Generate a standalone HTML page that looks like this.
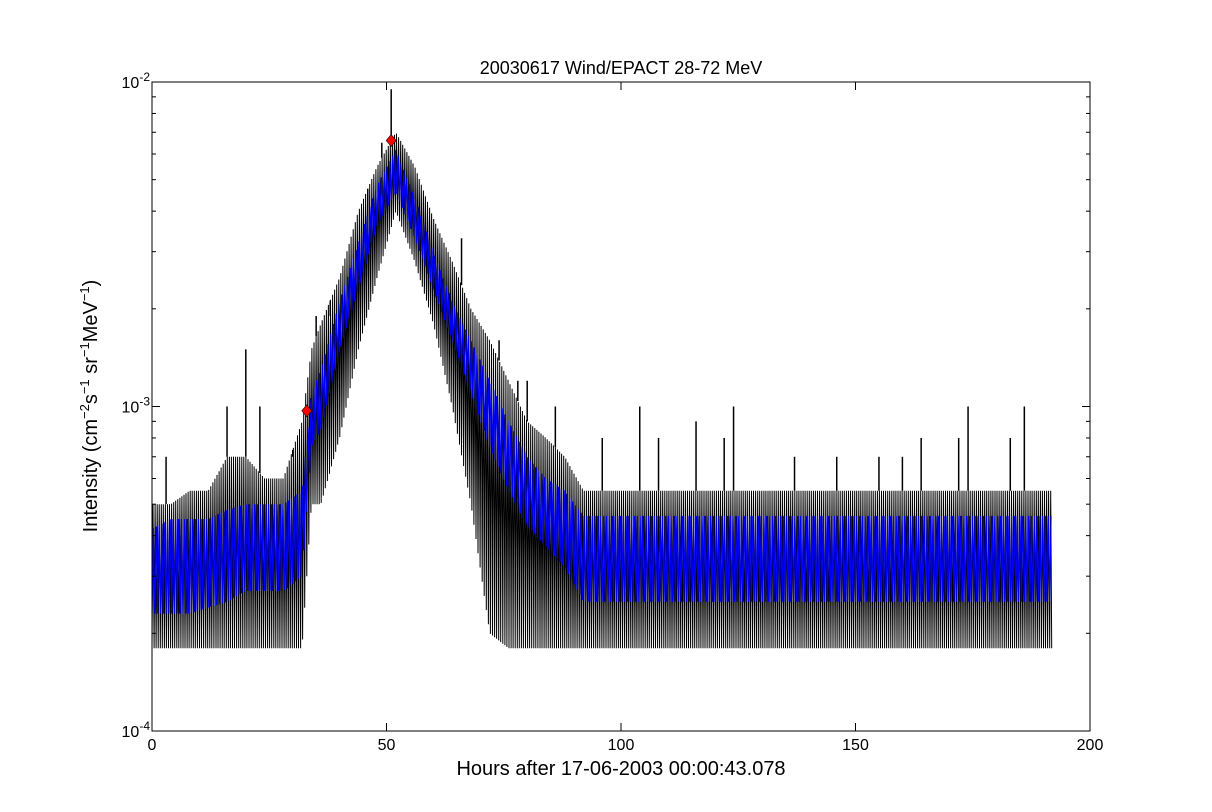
<!DOCTYPE html>
<html><head><meta charset="utf-8">
<style>
body{margin:0;background:#fff;}
svg{display:block;font-family:"Liberation Sans","DejaVu Sans",sans-serif;}
</style></head>
<body>
<svg id="chart" width="1212" height="812">
<rect width="1212" height="812" fill="#fff"/>
<text x="621" y="74" font-size="18" text-anchor="middle">20030617 Wind/EPACT 28-72 MeV</text>
<text x="621" y="775" font-size="20" text-anchor="middle">Hours after 17-06-2003 00:00:43.078</text>
<text transform="translate(97,406) rotate(-90)" font-size="20" text-anchor="middle">Intensity (cm<tspan font-size="13" dy="-8">−2</tspan><tspan dy="8">s</tspan><tspan font-size="13" dy="-8">−1</tspan><tspan dy="8"> sr</tspan><tspan font-size="13" dy="-8">−1</tspan><tspan dy="8">MeV</tspan><tspan font-size="13" dy="-8">−1</tspan><tspan dy="8">)</tspan></text>
<g id="plot"></g>
</svg>
<script>
const hours   = [0,4,8,12,16,20,24,28,32,34,36,40,44,48,52,56,60,64,68,72,76,80,84,88,92,100,110,120,130,140,150,160,170,180,190,192];
const blackHi = [5,5,5.5,5.5,7,7,6,6,9,15,18,25,40,55,70,55,38,28,20,16,12,9,8,7,5.5,5.5,5.5,5.5,5.5,5.5,5.5,5.5,5.5,5.5,5.5,5.5];
const blackLo = [1.8,1.8,1.8,1.8,1.8,1.8,1.8,1.8,1.8,5,5,8,15,25,40,28,18,10,5,2,1.8,1.8,1.8,1.8,1.8,1.8,1.8,1.8,1.8,1.8,1.8,1.8,1.8,1.8,1.8,1.8];
const blueHi  = [4.2,4.5,4.5,4.5,4.8,5,5,5,5.5,11,13,21,32,48,62,44,30,21,16,12,9,7,6,5.5,4.6,4.6,4.6,4.6,4.6,4.6,4.6,4.6,4.6,4.6,4.6,4.6];
const blueLo  = [2.3,2.3,2.3,2.4,2.5,2.7,2.7,2.7,3,7.5,8.5,15,23,36,46,33,23,16,11,7.5,5.5,4.3,3.7,3.2,2.5,2.5,2.5,2.5,2.5,2.5,2.5,2.5,2.5,2.5,2.5,2.5];
const spikeHours = [3,16,20,23,30,35,38,46,49,51,66,74,78,80,86,96,104,108,116,122,124,137,146,155,160,164,172,174,183,186];
const spikeVals  = [7,10,15,10,7,19,19,35,65,95,33,16,12,12,10,8,10,8,9,8,10,7,7,7,7,8,8,10,8,10];
const markerHours = [33,51];
const markerVals  = [9.7,66];
const xTicks = [0,50,100,150,200];

const X0=152,X1=1090,Y0=731,Y1=82;
const xs=h=>X0+(h/200)*(X1-X0);
const ys=v=>Y0-(Math.log10(v*1e-4)+4)/2*(Y0-Y1);
const NS="http://www.w3.org/2000/svg";
const g=document.getElementById('plot');
function mk(t,a){const e=document.createElementNS(NS,t);for(const k in a)e.setAttribute(k,a[k]);g.appendChild(e);return e;}
function interp(arr,h){for(let i=0;i<hours.length-1;i++){if(h>=hours[i]&&h<=hours[i+1]){const f=(h-hours[i])/(hours[i+1]-hours[i]);return Math.exp(Math.log(arr[i])*(1-f)+Math.log(arr[i+1])*f);}}return arr[arr.length-1];}
function zig(hi,lo,color,name,step,w){
  let d='';let k=0;
  for(let h=0;h<=192;h+=step,k++){const v=(k%2)?interp(hi,h):interp(lo,h);d+=(k?'L':'M')+xs(h).toFixed(1)+','+ys(v).toFixed(1);}
  const l=mk('path',{d:d,fill:'none',stroke:color,'stroke-width':w});
  
  
}
zig(blackHi,blackLo,'#000','black-series',0.22,1);
spikeHours.forEach((h,i)=>{
  const s=mk('line',{x1:xs(h),x2:xs(h),y1:ys(spikeVals[i]),y2:ys(interp(blackHi,h)),stroke:'#000','stroke-width':1.5});
  
  
});
zig(blueHi,blueLo,'#0000ff','blue-series',0.3,1.1);
markerHours.forEach((h,i)=>{
  const cx=xs(h),cy=ys(markerVals[i]);
  const m=mk('polygon',{points:`${cx},${cy-6} ${cx+5},${cy} ${cx},${cy+6} ${cx-5},${cy}`,fill:'#ff0000',stroke:'#000','stroke-width':0.6});
  
  
});
const fr=mk('rect',{x:X0,y:Y1,width:X1-X0,height:Y0-Y1,fill:'none',stroke:'#000','stroke-width':1});


xTicks.forEach(t=>{
  const x=xs(t);
  mk('line',{x1:x,x2:x,y1:Y0,y2:Y0-8,stroke:'#000'});
  mk('line',{x1:x,x2:x,y1:Y1,y2:Y1+8,stroke:'#000'});
  const tx=mk('text',{x:x,y:Y0+19,'font-size':16,'text-anchor':'middle'});tx.textContent=t;
  
  
});
for(let dec=-4;dec<=-2;dec++){
  const y=Y0-(dec+4)/2*(Y0-Y1);
  mk('line',{x1:X0,x2:X0+8,y1:y,y2:y,stroke:'#000'});
  mk('line',{x1:X1,x2:X1-8,y1:y,y2:y,stroke:'#000'});
  const tx=mk('text',{x:X0-2,y:y+6,'font-size':16,'text-anchor':'end'});
  tx.innerHTML='10<tspan font-size="12" dy="-7">'+dec+'</tspan>';
  
  
  if(dec<-2){for(let m=2;m<10;m++){const yy=Y0-(dec+Math.log10(m)+4)/2*(Y0-Y1);
    mk('line',{x1:X0,x2:X0+4,y1:yy,y2:yy,stroke:'#000'});
    mk('line',{x1:X1,x2:X1-4,y1:yy,y2:yy,stroke:'#000'});}}
}
</script>
</body></html>
